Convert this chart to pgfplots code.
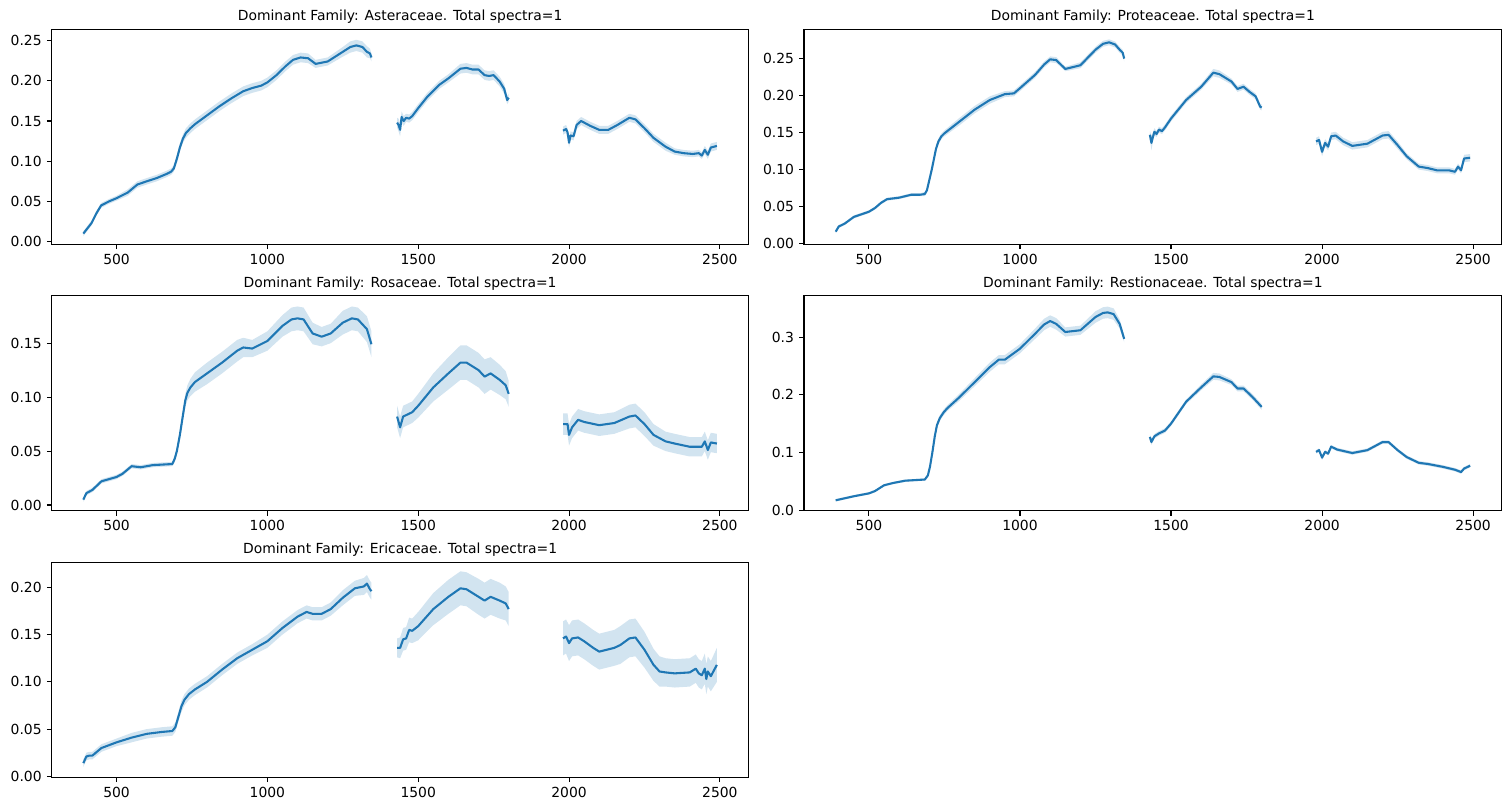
\documentclass[border=0pt]{standalone}
\usepackage{fontspec}
\setmainfont{DejaVu Sans}
\usepackage{pgfplots}
\usepackage{pgfplotstable}
\pgfplotsset{compat=1.18}
\usepgfplotslibrary{fillbetween}
\definecolor{tabblue}{RGB}{31,119,180}

% ---------- Asteraceae ----------
\pgfplotstableread{
x m s
390 0.010 0.003
417 0.023 0.003
433 0.035 0.003
449 0.045 0.003
475 0.050 0.003
500 0.054 0.003
537 0.061 0.004
569 0.071 0.004
600 0.075 0.004
633 0.079 0.004
665 0.084 0.004
681 0.087 0.004
690 0.091 0.004
700 0.103 0.005
710 0.117 0.005
720 0.128 0.005
730 0.135 0.006
745 0.141 0.006
760 0.146 0.006
800 0.157 0.006
840 0.168 0.006
880 0.178 0.006
920 0.187 0.006
950 0.191 0.006
980 0.194 0.006
1000 0.198 0.006
1030 0.207 0.006
1060 0.218 0.006
1085 0.226 0.006
1110 0.229 0.006
1135 0.228 0.006
1160 0.221 0.005
1200 0.224 0.005
1250 0.236 0.006
1275 0.242 0.007
1295 0.244 0.007
1315 0.242 0.007
1330 0.236 0.007
1340 0.234 0.006
1345 0.229 0.005
}\tAa
\pgfplotstableread{
x m s
1430 0.148 0.006
1435 0.145 0.008
1440 0.139 0.008
1445 0.155 0.007
1452 0.150 0.006
1460 0.154 0.005
1470 0.153 0.005
1480 0.156 0.005
1500 0.166 0.005
1530 0.180 0.005
1570 0.195 0.005
1600 0.203 0.005
1640 0.215 0.006
1660 0.216 0.006
1680 0.214 0.006
1700 0.214 0.006
1720 0.207 0.006
1735 0.206 0.006
1750 0.207 0.006
1770 0.199 0.006
1785 0.190 0.006
1795 0.176 0.005
1800 0.179 0.005
}\tAb
\pgfplotstableread{
x m s
1980 0.138 0.005
1990 0.140 0.005
1995 0.136 0.005
2000 0.123 0.006
2005 0.132 0.005
2015 0.131 0.005
2025 0.145 0.005
2040 0.150 0.005
2070 0.144 0.005
2100 0.139 0.005
2130 0.139 0.005
2160 0.145 0.005
2200 0.154 0.005
2220 0.152 0.005
2250 0.141 0.005
2280 0.129 0.005
2320 0.118 0.005
2350 0.112 0.004
2380 0.110 0.004
2410 0.109 0.004
2430 0.110 0.004
2440 0.107 0.004
2450 0.114 0.005
2460 0.108 0.005
2470 0.117 0.005
2490 0.119 0.005
}\tAc

% ---------- Proteaceae ----------
\pgfplotstableread{
x m s
390 0.016 0.002
400 0.023 0.002
420 0.027 0.002
450 0.036 0.002
500 0.043 0.002
520 0.048 0.002
540 0.055 0.002
560 0.060 0.002
600 0.062 0.002
640 0.066 0.002
670 0.066 0.002
685 0.067 0.003
692 0.072 0.003
700 0.086 0.003
708 0.100 0.004
715 0.114 0.004
722 0.128 0.004
730 0.138 0.004
740 0.145 0.004
750 0.149 0.004
800 0.165 0.005
850 0.181 0.005
900 0.194 0.005
950 0.202 0.004
980 0.203 0.004
1000 0.210 0.004
1050 0.228 0.004
1080 0.242 0.004
1100 0.249 0.004
1120 0.248 0.004
1150 0.236 0.003
1200 0.241 0.004
1250 0.262 0.004
1275 0.270 0.004
1295 0.272 0.004
1315 0.269 0.004
1330 0.262 0.004
1340 0.258 0.004
1345 0.250 0.004
}\tBa
\pgfplotstableread{
x m s
1430 0.147 0.005
1435 0.136 0.010
1440 0.144 0.006
1445 0.151 0.005
1452 0.148 0.004
1460 0.154 0.004
1470 0.152 0.004
1480 0.157 0.004
1500 0.169 0.004
1550 0.194 0.004
1600 0.212 0.004
1640 0.231 0.005
1660 0.229 0.005
1700 0.219 0.004
1720 0.209 0.004
1740 0.212 0.004
1760 0.205 0.004
1780 0.199 0.004
1795 0.185 0.004
1800 0.184 0.004
}\tBb
\pgfplotstableread{
x m s
1980 0.138 0.005
1990 0.140 0.005
2000 0.124 0.006
2010 0.136 0.005
2020 0.131 0.005
2030 0.145 0.005
2045 0.146 0.005
2070 0.138 0.005
2100 0.132 0.005
2150 0.135 0.005
2200 0.146 0.005
2220 0.147 0.005
2250 0.133 0.005
2280 0.118 0.004
2320 0.104 0.004
2350 0.102 0.004
2380 0.099 0.004
2420 0.099 0.004
2440 0.097 0.004
2450 0.104 0.004
2460 0.099 0.004
2470 0.115 0.005
2490 0.116 0.005
}\tBc

% ---------- Rosaceae ----------
\pgfplotstableread{
x m s
390 0.005 0.002
400 0.011 0.002
420 0.014 0.002
450 0.022 0.002
500 0.026 0.002
520 0.029 0.002
550 0.036 0.002
580 0.035 0.002
620 0.037 0.002
685 0.038 0.002
693 0.043 0.003
700 0.050 0.003
710 0.065 0.004
720 0.083 0.005
728 0.097 0.006
735 0.104 0.007
745 0.109 0.008
760 0.114 0.009
800 0.122 0.010
850 0.132 0.010
900 0.143 0.010
920 0.146 0.009
950 0.145 0.008
1000 0.152 0.009
1050 0.166 0.010
1080 0.172 0.011
1100 0.173 0.011
1120 0.172 0.011
1150 0.159 0.010
1180 0.156 0.009
1210 0.159 0.009
1250 0.169 0.011
1280 0.173 0.011
1300 0.172 0.011
1330 0.163 0.012
1345 0.149 0.012
}\tCa
\pgfplotstableread{
x m s
1430 0.082 0.010
1440 0.072 0.010
1450 0.082 0.010
1480 0.086 0.010
1500 0.092 0.011
1550 0.109 0.013
1600 0.122 0.015
1640 0.132 0.016
1660 0.132 0.016
1700 0.125 0.016
1720 0.119 0.016
1740 0.122 0.015
1770 0.116 0.014
1790 0.111 0.013
1800 0.103 0.012
}\tCb
\pgfplotstableread{
x m s
1980 0.075 0.010
1995 0.075 0.010
2000 0.065 0.010
2010 0.072 0.010
2030 0.079 0.010
2050 0.077 0.010
2100 0.074 0.010
2150 0.076 0.010
2200 0.082 0.011
2220 0.083 0.011
2250 0.075 0.011
2280 0.065 0.010
2320 0.059 0.009
2350 0.057 0.009
2400 0.054 0.009
2440 0.054 0.009
2450 0.059 0.009
2460 0.051 0.009
2470 0.058 0.009
2490 0.057 0.009
}\tCc

% ---------- Restionaceae ----------
\pgfplotstableread{
x m s
390 0.017 0.002
450 0.024 0.002
500 0.029 0.002
520 0.033 0.002
550 0.043 0.002
580 0.047 0.002
620 0.051 0.002
685 0.053 0.002
695 0.060 0.003
702 0.075 0.003
710 0.100 0.004
718 0.128 0.004
725 0.147 0.005
735 0.160 0.005
748 0.170 0.005
760 0.177 0.005
800 0.196 0.006
850 0.222 0.007
900 0.248 0.008
930 0.261 0.008
950 0.261 0.008
1000 0.280 0.008
1050 0.306 0.009
1080 0.322 0.010
1100 0.328 0.010
1120 0.323 0.010
1150 0.309 0.008
1200 0.312 0.008
1250 0.335 0.010
1275 0.342 0.010
1290 0.343 0.010
1310 0.340 0.010
1330 0.323 0.008
1345 0.297 0.006
}\tDa
\pgfplotstableread{
x m s
1430 0.127 0.004
1435 0.118 0.005
1445 0.128 0.004
1460 0.133 0.004
1480 0.138 0.004
1500 0.150 0.004
1550 0.188 0.004
1600 0.213 0.005
1640 0.232 0.006
1660 0.231 0.006
1700 0.222 0.005
1720 0.211 0.005
1740 0.211 0.005
1770 0.196 0.005
1800 0.179 0.005
}\tDb
\pgfplotstableread{
x m s
1980 0.101 0.003
1990 0.104 0.003
2000 0.091 0.004
2010 0.101 0.003
2020 0.098 0.003
2030 0.110 0.003
2050 0.105 0.003
2100 0.099 0.003
2150 0.104 0.003
2200 0.118 0.003
2220 0.118 0.003
2250 0.104 0.003
2280 0.092 0.003
2320 0.082 0.003
2350 0.080 0.003
2400 0.075 0.003
2440 0.070 0.003
2460 0.066 0.003
2470 0.072 0.003
2490 0.077 0.003
}\tDc

% ---------- Ericaceae ----------
\pgfplotstableread{
x m s
390 0.014 0.004
400 0.021 0.004
410 0.022 0.004
420 0.022 0.004
450 0.030 0.004
500 0.036 0.004
550 0.041 0.005
600 0.045 0.005
650 0.047 0.005
685 0.048 0.005
695 0.052 0.005
705 0.063 0.005
715 0.074 0.006
725 0.081 0.006
740 0.087 0.006
760 0.092 0.006
800 0.100 0.006
850 0.113 0.006
900 0.125 0.006
950 0.134 0.006
1000 0.143 0.007
1050 0.157 0.007
1100 0.169 0.007
1130 0.174 0.007
1150 0.172 0.007
1180 0.172 0.007
1210 0.177 0.007
1250 0.189 0.008
1290 0.199 0.008
1320 0.201 0.009
1330 0.204 0.009
1340 0.198 0.009
1345 0.196 0.009
}\tEa
\pgfplotstableread{
x m s
1430 0.136 0.010
1440 0.136 0.011
1450 0.145 0.012
1460 0.146 0.012
1470 0.155 0.013
1480 0.154 0.013
1500 0.159 0.015
1550 0.177 0.017
1600 0.190 0.018
1640 0.199 0.018
1660 0.198 0.018
1700 0.190 0.019
1720 0.186 0.019
1740 0.190 0.019
1770 0.186 0.019
1790 0.183 0.018
1800 0.177 0.018
}\tEb
\pgfplotstableread{
x m s
1980 0.146 0.018
1990 0.148 0.018
2000 0.141 0.019
2010 0.146 0.019
2030 0.147 0.019
2050 0.143 0.019
2080 0.136 0.019
2100 0.132 0.019
2150 0.136 0.019
2170 0.139 0.020
2200 0.146 0.020
2220 0.147 0.020
2250 0.134 0.019
2280 0.118 0.017
2300 0.111 0.016
2320 0.110 0.015
2350 0.109 0.015
2400 0.110 0.015
2420 0.114 0.015
2430 0.109 0.015
2440 0.107 0.015
2450 0.114 0.016
2455 0.103 0.016
2460 0.111 0.016
2470 0.106 0.016
2490 0.118 0.018
}\tEc

\newcommand{\spec}[2]{%
  \addplot[draw=none, name path=u#2, forget plot] table[x=x, y expr=\thisrow{m}+\thisrow{s}]{#1};
  \addplot[draw=none, name path=l#2, forget plot] table[x=x, y expr=\thisrow{m}-\thisrow{s}]{#1};
  \addplot[fill=tabblue, fill opacity=0.2, draw=none, forget plot] fill between[of=u#2 and l#2];
  \addplot[tabblue, line width=1.5pt, line join=round, forget plot] table[x=x, y=m]{#1};
}

\pgfplotsset{
  panel/.style={
    scale only axis, width=501.8pt, height=154.8pt,
    anchor=north west,
    xmin=285, xmax=2595,
    xtick={500,1000,1500,2000,2500},
    tick align=outside, xtick pos=bottom, ytick pos=left,
    major tick length=3.5pt,
    every tick/.style={black, line width=0.8pt},
    axis line style={line width=0.8pt},
    tick label style={font=\fontsize{10}{12}\selectfont, inner sep=0pt},
    xticklabel shift=3.5pt, yticklabel shift=3.5pt,
    /pgf/number format/assume math mode=true,
    xticklabel style={/pgf/number format/set thousands separator={}},
    scaled y ticks=false,
    yticklabel style={/pgf/number format/.cd, fixed, fixed zerofill, precision=2},
    title style={font=\fontsize{10}{12}\selectfont, at={(0.5,1)}, anchor=base, inner sep=0pt},
  }
}

\begin{document}
\begin{tikzpicture}
\path (0,0) rectangle (1088pt,-584pt);

\begin{axis}[panel, at={(37.2pt,-21.1pt)}, ymin=-0.0033, ymax=0.264,
  ytick={0,0.05,0.10,0.15,0.20,0.25},
  title={Dominant Family: Asteraceae. Total spectra=1}]
\spec{\tAa}{a1}\spec{\tAb}{a2}\spec{\tAc}{a3}
\end{axis}

\begin{axis}[panel, at={(578.9pt,-21.1pt)}, width=502.5pt, ymin=-0.001, ymax=0.2896,
  ytick={0,0.05,0.10,0.15,0.20,0.25},
  title={Dominant Family: Proteaceae. Total spectra=1}]
\spec{\tBa}{b1}\spec{\tBb}{b2}\spec{\tBc}{b3}
\end{axis}

\begin{axis}[panel, at={(37.2pt,-212.9pt)}, ymin=-0.0052, ymax=0.194,
  ytick={0,0.05,0.10,0.15},
  title={Dominant Family: Rosaceae. Total spectra=1}]
\spec{\tCa}{c1}\spec{\tCb}{c2}\spec{\tCc}{c3}
\end{axis}

\begin{axis}[panel, at={(578.9pt,-212.9pt)}, width=502.5pt, ymin=-0.001, ymax=0.372,
  ytick={0,0.1,0.2,0.3},
  yticklabel style={/pgf/number format/.cd, fixed, fixed zerofill, precision=1},
  title={Dominant Family: Restionaceae. Total spectra=1}]
\spec{\tDa}{d1}\spec{\tDb}{d2}\spec{\tDc}{d3}
\end{axis}

\begin{axis}[panel, at={(37.2pt,-404.9pt)}, ymin=-0.001, ymax=0.2265,
  ytick={0,0.05,0.10,0.15,0.20},
  title={Dominant Family: Ericaceae. Total spectra=1}]
\spec{\tEa}{e1}\spec{\tEb}{e2}\spec{\tEc}{e3}
\end{axis}
\end{tikzpicture}
\end{document}
